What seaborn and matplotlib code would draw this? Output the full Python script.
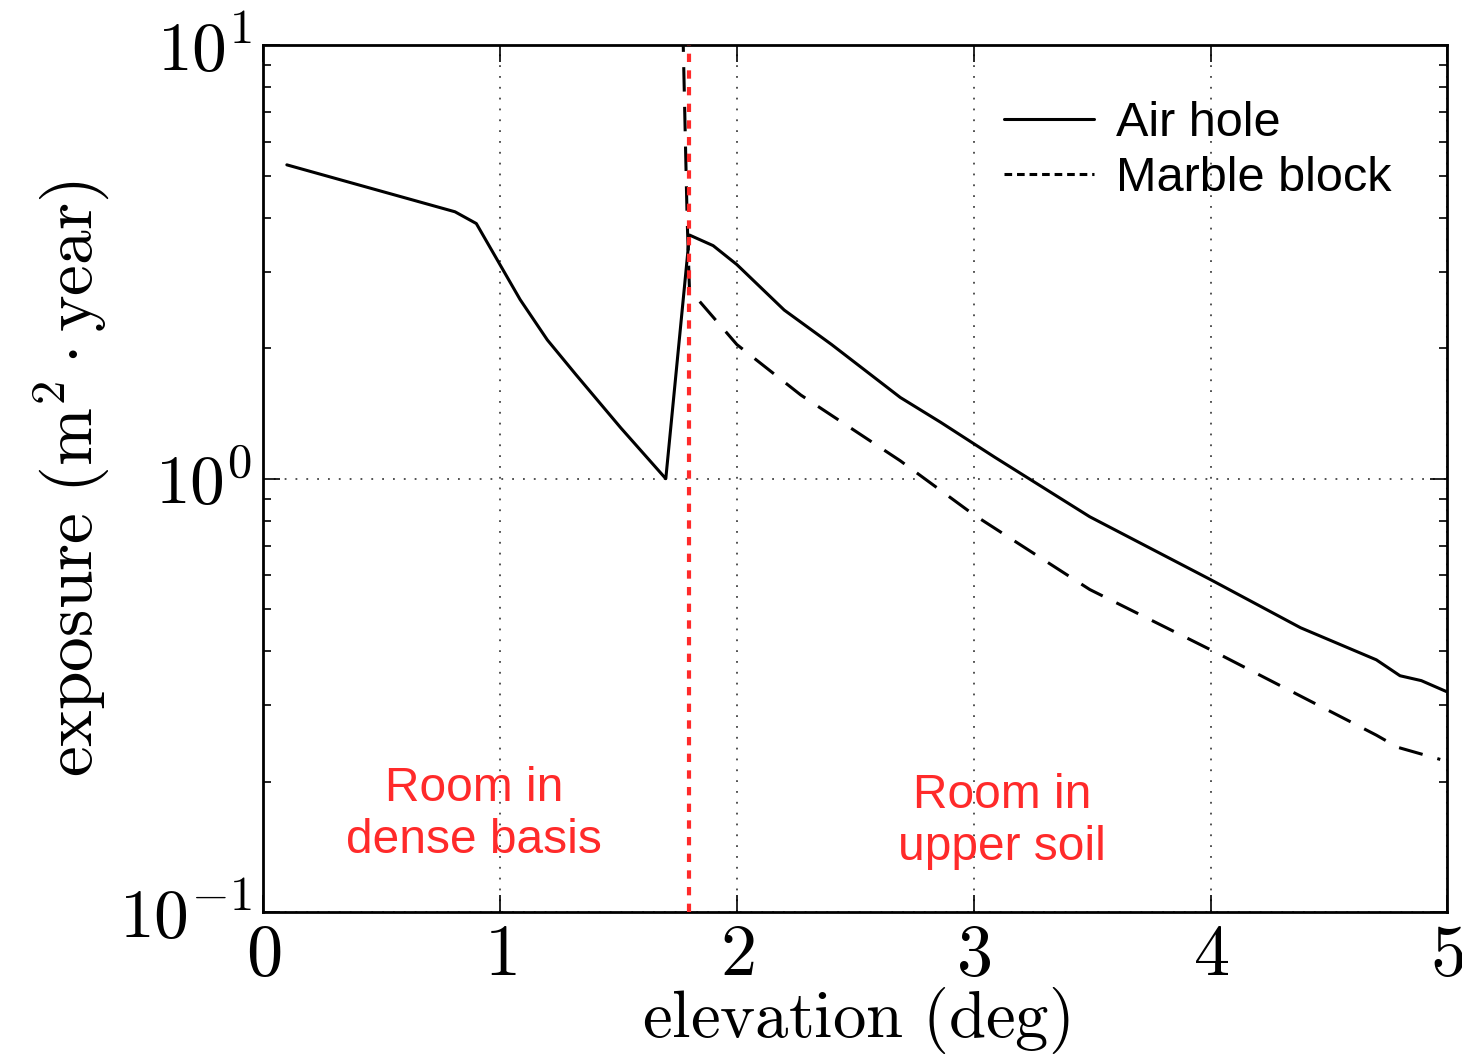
import numpy as np
import pandas as pd
import matplotlib
matplotlib.use('Agg')
import matplotlib.pyplot as plt
import seaborn as sns

# Air hole curve (solid)
air_x = [0.10, 0.81, 0.90, 1.085, 1.20, 1.32, 1.51, 1.70, 1.80, 1.90, 2.00, 2.20,
         2.40, 2.69, 2.86, 3.09, 3.49, 4.00, 4.38, 4.70, 4.80, 4.89, 5.00]
air_y = [5.3, 4.13, 3.88, 2.59, 2.09, 1.74, 1.31, 1.00, 3.65, 3.45, 3.12, 2.45,
         2.04, 1.54, 1.35, 1.12, 0.817, 0.585, 0.453, 0.382, 0.351, 0.342, 0.322]

# Marble block curve (dashed)
marble_x = [1.772, 1.79, 1.80, 2.00, 2.27, 2.69, 3.00, 3.49, 4.00, 4.41, 4.59,
            4.70, 4.79, 4.97]
marble_y = [11.0, 4.0, 2.73, 2.04, 1.56, 1.10, 0.826, 0.555, 0.403, 0.309, 0.275,
            0.256, 0.240, 0.225]

boundary = 1.8
xticks = [0, 1, 2, 3, 4, 5]
yticks = [0.1, 1, 10]
ytick_labels = [r'$10^{-1}$', r'$10^{0}$', r'$10^{1}$']

sns.set_style('ticks')
plt.rcParams['mathtext.fontset'] = 'cm'
plt.rcParams['font.family'] = ['Liberation Sans', 'DejaVu Sans']
plt.rcParams['text.color'] = 'black'
plt.rcParams['axes.labelcolor'] = 'black'
plt.rcParams['xtick.color'] = 'black'
plt.rcParams['ytick.color'] = 'black'

air = pd.DataFrame({'x': air_x, 'y': air_y})
marble = pd.DataFrame({'x': marble_x, 'y': marble_y})

fig = plt.figure(figsize=(14.62, 10.55), dpi=100)
ax = fig.add_axes([0.18, 0.1355, 0.81, 0.8215])

sns.lineplot(data=air, x='x', y='y', ax=ax, color='black', lw=2.2,
             label='Air hole', sort=False)
sns.lineplot(data=marble, x='x', y='y', ax=ax, color='black', lw=2.2,
             linestyle=(0, (8, 5)), label='Marble block', sort=False)
ax.axvline(boundary, color='#ff2a2a', lw=3, linestyle=(0, (2, 2)), zorder=5)

ax.set_yscale('log')
ax.set_xlim(0, 5)
ax.set_ylim(0.1, 10)
ax.set_xticks(xticks)
ax.set_xticklabels([rf'${t}$' for t in xticks], fontsize=52)
ax.set_yticks(yticks)
ax.set_yticklabels(ytick_labels, fontsize=50)
ax.tick_params(which='both', direction='in', top=True, right=True, width=1.2)
ax.tick_params(which='major', length=12, pad=8)
ax.tick_params(which='minor', length=6)
ax.grid(True, which='major', color='#444444', linestyle=(0, (1, 5)), lw=1.3)
for s in ax.spines.values():
    s.set_linewidth(2)
    s.set_color('black')

ax.set_xlabel(r'$\mathrm{elevation\ (deg)}$', fontsize=48, labelpad=-4)
ax.set_ylabel(r'$\mathrm{exposure\ (m^2\cdot year)}$', fontsize=50, labelpad=6)

ax.text(0.89, 0.168, 'Room in\ndense basis', color='#ff2a2a', fontsize=34.5,
        ha='center', va='center', linespacing=1.2)
ax.text(3.12, 0.162, 'Room in\nupper soil', color='#ff2a2a', fontsize=34.5,
        ha='center', va='center', linespacing=1.2)

leg = ax.legend(loc='upper right', frameon=False, fontsize=35, handlelength=1.85,
                handletextpad=0.45, labelspacing=0.2, borderaxespad=0.75)
leg.get_lines()[1].set_linestyle((0, (2.5, 1.6)))

fig.savefig('out.png', dpi=100)
